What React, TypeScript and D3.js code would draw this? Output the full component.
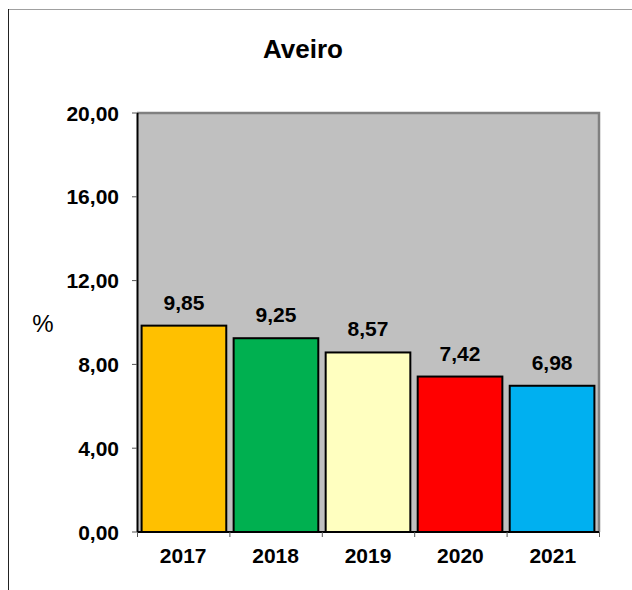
import React, { useRef, useEffect } from 'react';
import * as d3 from 'd3';

// chart data
const years = ['2017', '2018', '2019', '2020', '2021'];
const values = [9.85, 9.25, 8.57, 7.42, 6.98];
const barColors = ['#FFC000', '#00B050', '#FFFFC0', '#FF0000', '#00B0F0'];
const yTicks = [0, 4, 8, 12, 16, 20];
const title = 'Aveiro';

const fmt = (v: number) => v.toFixed(2).replace('.', ',');

function App() {
  const svgRef = useRef<SVGSVGElement>(null);

  useEffect(() => {
    const W = 632;
    const H = 590;
    const left = 137;
    const right = 599;
    const top = 113;
    const bottom = 532;
    const font = 'Arial, "Liberation Sans", sans-serif';

    const svg = d3.select(svgRef.current).attr('width', W).attr('height', H);
    svg.selectAll('*').remove();

    svg.append('rect').attr('width', W).attr('height', H).attr('fill', '#fff');

    // outer frame
    svg.append('line').attr('x1', 8).attr('x2', W).attr('y1', 9.5).attr('y2', 9.5)
      .attr('stroke', '#a0a0a0').attr('stroke-width', 1);
    svg.append('line').attr('x1', 8.5).attr('x2', 8.5).attr('y1', 9).attr('y2', H)
      .attr('stroke', '#222').attr('stroke-width', 1);

    const x = d3.scaleBand().domain(years).range([left, right]).paddingInner(0.08).paddingOuter(0.05);
    const xBand = d3.scaleBand().domain(years).range([left, right]);
    const y = d3.scaleLinear().domain([0, 20]).range([bottom, top]);

    // plot area
    svg.append('rect').attr('x', left).attr('y', top).attr('width', right - left).attr('height', bottom - top)
      .attr('fill', '#C0C0C0');
    svg.append('path')
      .attr('d', `M${left},${top} H${right} V${bottom}`)
      .attr('fill', 'none').attr('stroke', '#808080').attr('stroke-width', 2.5);

    // bars
    svg.selectAll('.bar').data(values).join('rect').attr('class', 'bar')
      .attr('x', (d, i) => x(years[i])!)
      .attr('y', (d) => y(d))
      .attr('width', x.bandwidth())
      .attr('height', (d) => bottom - y(d))
      .attr('fill', (d, i) => barColors[i])
      .attr('stroke', '#000').attr('stroke-width', 2);

    // value labels
    svg.selectAll('.val').data(values).join('text').attr('class', 'val')
      .attr('x', (d, i) => x(years[i])! + x.bandwidth() / 2)
      .attr('y', (d) => y(d) - 16)
      .attr('text-anchor', 'middle')
      .attr('font-family', font).attr('font-weight', 'bold').attr('font-size', 21)
      .text((d) => fmt(d));

    // y axis
    svg.append('line').attr('x1', left + 0.5).attr('x2', left + 0.5).attr('y1', top).attr('y2', bottom)
      .attr('stroke', '#000').attr('stroke-width', 2);
    svg.selectAll('.ytick').data(yTicks).join('line').attr('class', 'ytick')
      .attr('x1', left - 5).attr('x2', left).attr('y1', (d) => y(d)).attr('y2', (d) => y(d))
      .attr('stroke', '#555').attr('stroke-width', 1);
    svg.selectAll('.ylab').data(yTicks).join('text').attr('class', 'ylab')
      .attr('x', 119).attr('y', (d) => y(d) + 7.5)
      .attr('text-anchor', 'end')
      .attr('font-family', font).attr('font-weight', 'bold').attr('font-size', 21)
      .text((d) => fmt(d));

    // x axis
    svg.append('line').attr('x1', left).attr('x2', right).attr('y1', bottom).attr('y2', bottom)
      .attr('stroke', '#000').attr('stroke-width', 2);
    const bounds = years.map((d) => xBand(d)!).concat([right]);
    svg.selectAll('.xtick').data(bounds).join('line').attr('class', 'xtick')
      .attr('x1', (d) => d + 0.5).attr('x2', (d) => d + 0.5).attr('y1', bottom).attr('y2', bottom + 5)
      .attr('stroke', '#555').attr('stroke-width', 1);
    svg.selectAll('.xlab').data(years).join('text').attr('class', 'xlab')
      .attr('x', (d) => xBand(d)! + xBand.bandwidth() / 2)
      .attr('y', bottom + 31)
      .attr('text-anchor', 'middle')
      .attr('font-family', font).attr('font-weight', 'bold').attr('font-size', 21)
      .text((d) => d);

    // title and axis label
    svg.append('text').attr('x', 303).attr('y', 58).attr('text-anchor', 'middle')
      .attr('font-family', font).attr('font-weight', 'bold').attr('font-size', 26)
      .text(title);
    svg.append('text').attr('x', 43).attr('y', 332).attr('text-anchor', 'middle')
      .attr('font-family', font).attr('font-size', 24)
      .text('%');
  }, []);

  return (
    <div>
      <svg ref={svgRef} style={{ position: 'absolute', left: 0, top: 0, display: 'block' }}></svg>
    </div>
  );
}

export default App;
